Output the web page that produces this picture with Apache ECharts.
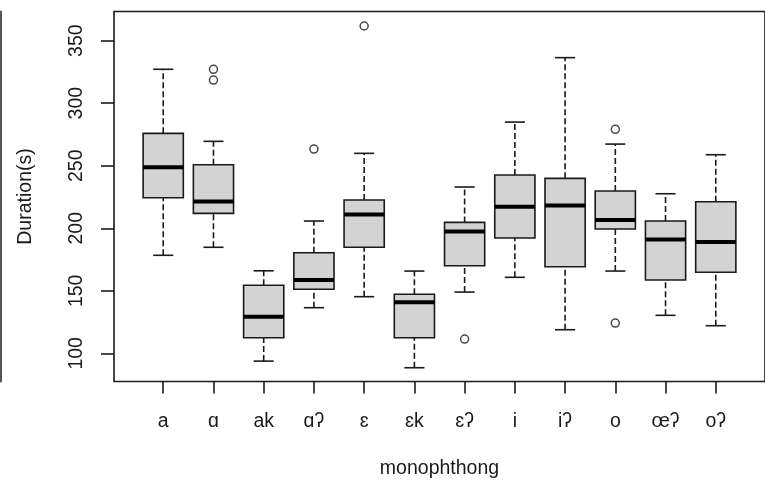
<!DOCTYPE html>
<html>
<head>
<meta charset="utf-8">
<title>Duration by monophthong</title>
<script src="https://cdn.jsdelivr.net/npm/echarts@6/dist/echarts.min.js"></script>
<style>
  html, body { margin: 0; padding: 0; background: #fff; }
  #chart { width: 765px; height: 484px; }
</style>
</head>
<body>
<div id="chart"></div>
<script>
  // categories along x, one box each
  var categories = ['a', 'ɑ', 'ak', 'ɑʔ', 'ɛ', 'ɛk', 'ɛʔ', 'i', 'iʔ', 'o', 'œʔ', 'oʔ'];
  // five-number summaries
  var whiskerLow = [178.4, 184.8, 93.8, 136.5, 145.3, 88.5, 149, 160.8, 118.9, 165.8, 130.4, 122.1];
  var q1 = [224.4, 211.9, 112.5, 151.2, 184.8, 112.5, 170, 192.2, 169.2, 199.4, 158.6, 164.8];
  var median = [248.7, 221.5, 129.3, 158.6, 211.1, 140.8, 197.5, 217.2, 218.3, 206.6, 191.1, 189];
  var q3 = [275.9, 250.8, 154.4, 180.4, 222.6, 147.2, 204.7, 242.6, 239.9, 229.8, 205.8, 221.2];
  var whiskerHigh = [327.1, 269.5, 166, 205.8, 259.9, 165.8, 233, 284.9, 336.4, 267.3, 227.6, 258.8];
  // outliers: box number (1-based) and value
  var outlierGroup = [2, 2, 4, 5, 7, 10, 10];
  var outlierValue = [327.1, 318.5, 263.3, 361.7, 111.4, 279.1, 124.2];
  var yTicks = [100, 150, 200, 250, 300, 350];

  var FONT = "'Liberation Sans', Arial, sans-serif";
  var INK = '#1a1a1a';
  var LW = 1.6;

  var boxData = categories.map(function (c, i) {
    return [i + 1, whiskerLow[i], q1[i], median[i], q3[i], whiskerHigh[i]];
  });
  var outlierData = outlierGroup.map(function (g, i) {
    return [g, outlierValue[i]];
  });
  var xTicks = categories.map(function (c, i) { return i + 1; });

  function renderBox(params, api) {
    var x = api.value(0);
    var lo = api.value(1), b1 = api.value(2), md = api.value(3), b3 = api.value(4), hi = api.value(5);
    var halfBox = 0.4, halfCap = 0.2;
    var pLo = api.coord([x, lo]), pB1 = api.coord([x, b1]), pB3 = api.coord([x, b3]), pHi = api.coord([x, hi]);
    var tl = api.coord([x - halfBox, b3]), br = api.coord([x + halfBox, b1]);
    var mL = api.coord([x - halfBox, md]), mR = api.coord([x + halfBox, md]);
    var cLoL = api.coord([x - halfCap, lo]), cLoR = api.coord([x + halfCap, lo]);
    var cHiL = api.coord([x - halfCap, hi]), cHiR = api.coord([x + halfCap, hi]);
    var dash = { stroke: INK, lineWidth: LW, lineDash: [6, 3] };
    var solid = { stroke: INK, lineWidth: LW };
    return {
      type: 'group',
      children: [
        { type: 'line', shape: { x1: pLo[0], y1: pLo[1], x2: pB1[0], y2: pB1[1] }, style: dash },
        { type: 'line', shape: { x1: pB3[0], y1: pB3[1], x2: pHi[0], y2: pHi[1] }, style: dash },
        { type: 'line', shape: { x1: cLoL[0], y1: cLoL[1], x2: cLoR[0], y2: cLoR[1] }, style: solid },
        { type: 'line', shape: { x1: cHiL[0], y1: cHiL[1], x2: cHiR[0], y2: cHiR[1] }, style: solid },
        {
          type: 'rect',
          shape: { x: tl[0], y: tl[1], width: br[0] - tl[0], height: br[1] - tl[1] },
          style: { fill: '#d3d3d3', stroke: INK, lineWidth: LW }
        },
        { type: 'line', shape: { x1: mL[0], y1: mL[1], x2: mR[0], y2: mR[1] }, style: { stroke: '#000', lineWidth: 4 } }
      ]
    };
  }

  var chart = echarts.init(document.getElementById('chart'), null, { renderer: 'canvas' });
  var option = {
    animation: false,
    backgroundColor: '#fff',
    grid: {
      left: 114, top: 11.5, width: 655.5, height: 370,
      show: true, borderColor: INK, borderWidth: LW, backgroundColor: 'transparent'
    },
    xAxis: {
      type: 'value',
      min: 0.02, max: 12.98,
      name: 'monophthong',
      nameLocation: 'middle',
      nameGap: 77,
      nameTextStyle: { fontFamily: FONT, fontSize: 19.5, color: INK },
      axisLine: { show: false },
      splitLine: { show: false },
      axisTick: { show: true, length: 12, lineStyle: { color: INK, width: LW }, customValues: xTicks },
      axisLabel: {
        fontFamily: FONT, fontSize: 19.5, color: INK, margin: 30,
        customValues: xTicks,
        formatter: function (v) { return categories[Math.round(v) - 1] || ''; }
      }
    },
    yAxis: [{
      type: 'value',
      min: 77.5, max: 373.3,
      name: 'Duration(s)',
      nameLocation: 'middle',
      nameGap: 78,
      nameTextStyle: { fontFamily: FONT, fontSize: 19.5, color: INK },
      axisLine: { show: false },
      splitLine: { show: false },
      axisTick: { show: true, length: 13, lineStyle: { color: INK, width: LW }, customValues: yTicks },
      axisLabel: {
        fontFamily: FONT, fontSize: 19.5, color: INK, rotate: 90, margin: 27,
        customValues: yTicks
      }
    }, {
      // thin dark rule at the far left edge of the picture
      type: 'value', min: 0, max: 1, position: 'left', offset: 113,
      axisLine: { show: true, lineStyle: { color: '#555', width: 2 } },
      axisTick: { show: false }, axisLabel: { show: false }, splitLine: { show: false }
    }],
    series: [{
      type: 'custom',
      name: 'duration',
      renderItem: renderBox,
      encode: { x: 0, y: [1, 2, 3, 4, 5] },
      data: boxData,
      z: 2
    }, {
      type: 'scatter',
      name: 'outliers',
      symbol: 'circle',
      symbolSize: 8,
      itemStyle: { color: 'rgba(255,255,255,0)', borderColor: INK, borderWidth: 1.5 },
      data: outlierData,
      z: 3
    }]
  };
  chart.setOption(option);
</script>
</body>
</html>
